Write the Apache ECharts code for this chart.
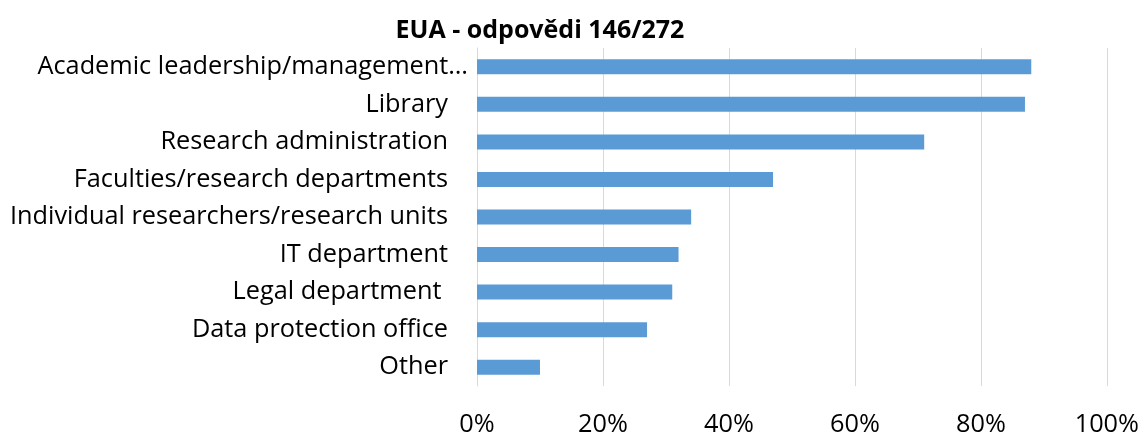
<!DOCTYPE html>
<html>
<head>
<meta charset="utf-8">
<script src="https://cdn.jsdelivr.net/npm/echarts@6/dist/echarts.min.js"></script>
<style>
  html, body { margin: 0; padding: 0; background: #fff; }
  #chart { width: 1142px; height: 437px; }
</style>
</head>
<body>
<div id="chart"></div>
<script>
// categories, top to bottom as in the picture
const categories = [
  'Academic leadership/management…',
  'Library',
  'Research administration',
  'Faculties/research departments',
  'Individual researchers/research units',
  'IT department',
  'Legal department ',
  'Data protection office',
  'Other'
]
// share of answers, %
const shares = [88, 87, 71, 47, 34, 32, 31, 27, 10]
const xTicks = [0, 20, 40, 60, 80, 100]

const font = 'Open Sans'
const size = 25.3

// category axis runs bottom-up, so reverse
const yData = categories.slice().reverse().map(c => {
  if (c.endsWith('…')) return { value: c }
  return { value: c, textStyle: { padding: [0, 20, 0, 0] } }
})

const chart = echarts.init(document.getElementById('chart'))
chart.setOption({
  animation: false,
  title: {
    text: 'EUA - odpovědi 146/272',
    left: 535,
    textAlign: 'center',
    top: 13,
    textStyle: { fontFamily: font, fontSize: 25, fontWeight: 'bold', color: '#000' }
  },
  grid: { left: 477, right: 35, top: 48, bottom: 49, containLabel: false },
  xAxis: {
    type: 'value',
    min: xTicks[0],
    max: xTicks[xTicks.length - 1],
    interval: 20,
    axisLine: { show: false },
    axisTick: { show: false },
    splitLine: { lineStyle: { color: '#d9d9d9', width: 1 } },
    axisLabel: {
      margin: 26,
      fontFamily: font,
      fontSize: size,
      color: '#000',
      formatter: v => v + '%'
    }
  },
  yAxis: {
    type: 'category',
    data: yData,
    axisLine: { show: true, lineStyle: { color: '#d9d9d9' } },
    axisTick: { show: false },
    axisLabel: { margin: 9, fontFamily: font, fontSize: size, color: '#000' }
  },
  series: [{
    type: 'bar',
    data: shares.slice().reverse(),
    barWidth: 15,
    itemStyle: { color: '#5b9bd5' }
  }]
})
</script>
</body>
</html>
